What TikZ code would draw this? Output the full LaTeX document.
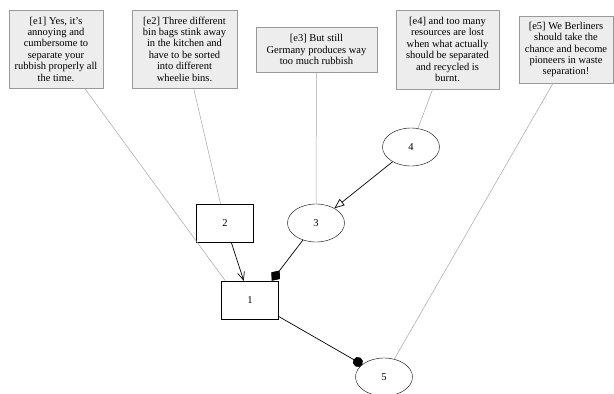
\documentclass[tikz,border=0pt]{standalone}
\usepackage{fontspec}
\setmainfont{Liberation Serif}
\usepackage{tikz}
\usetikzlibrary{arrows.meta,shapes.geometric}

\begin{document}
\begin{tikzpicture}[
        x=1pt, y=-1pt,
        font=\fontsize{10.5}{11.4}\selectfont,
        edu/.style={draw=black!40, fill=black!7, align=center, inner sep=2pt},
        prem/.style={draw, rectangle, minimum width=57pt, minimum height=38pt, inner sep=0pt},
        claim/.style={draw, ellipse, minimum width=57pt, minimum height=38pt, inner sep=0pt},
        link/.style={draw=black!35, line width=0.5pt},
        rel/.style={line width=0.7pt}
    ]
        \useasboundingbox (0,0) rectangle (614,394);
        % elementary discourse units
        \node[edu, minimum width=94pt, minimum height=78pt] (e1) at (56,49) {[e1] Yes, it's\\annoying and\\cumbersome to\\separate your\\rubbish properly all\\the time.};
        \node[edu, minimum width=105pt, minimum height=78pt] (e2) at (184.5,49) {[e2] Three different\\bin bags stink away\\in the kitchen and\\have to be sorted\\into different\\wheelie bins.};
        \node[edu, minimum width=121pt, minimum height=45pt] (e3) at (316.5,49.5) {[e3] But still\\Germany produces way\\too much rubbish};
        \node[edu, minimum width=103pt, minimum height=79pt] (e4) at (447.5,49.5) {[e4] and too many\\resources are lost\\when what actually\\should be separated\\and recycled is\\burnt.};
        \node[edu, minimum width=94pt, minimum height=67pt] (e5) at (566,49.5) {[e5] We Berliners\\should take the\\chance and become\\pioneers in waste\\separation!};
        % argument units
        \node[prem] (a1) at (250,300) {1};
        \node[prem] (a2) at (225,223) {2};
        \node[claim] (a3) at (316,223) {3};
        \node[claim] (a4) at (411,147) {4};
        \node[claim] (a5) at (384,377) {5};
        % segment links
        \draw[link] (e1) -- ([xshift=4pt]a1.north west);
        \draw[link] (e2) -- (a2);
        \draw[link] (e3) -- (a3);
        \draw[link] (e4) -- (a4);
        \draw[link] ([xshift=-13pt]e5.south) -- (a5);
        % relations
        \draw[rel, -{Straight Barb[length=8pt, width=7pt]}] (a2) -- (a1);
        \draw[rel, -{Diamond[length=13pt, width=11pt]}] (a3) -- ([xshift=-7pt]a1.north east);
        \draw[rel, -{Triangle[open, length=10pt, width=8pt]}] (a4) -- (a3);
        \draw[rel, -{Circle[length=10pt]}] (a1) -- (a5);
    \end{tikzpicture}
\end{document}
